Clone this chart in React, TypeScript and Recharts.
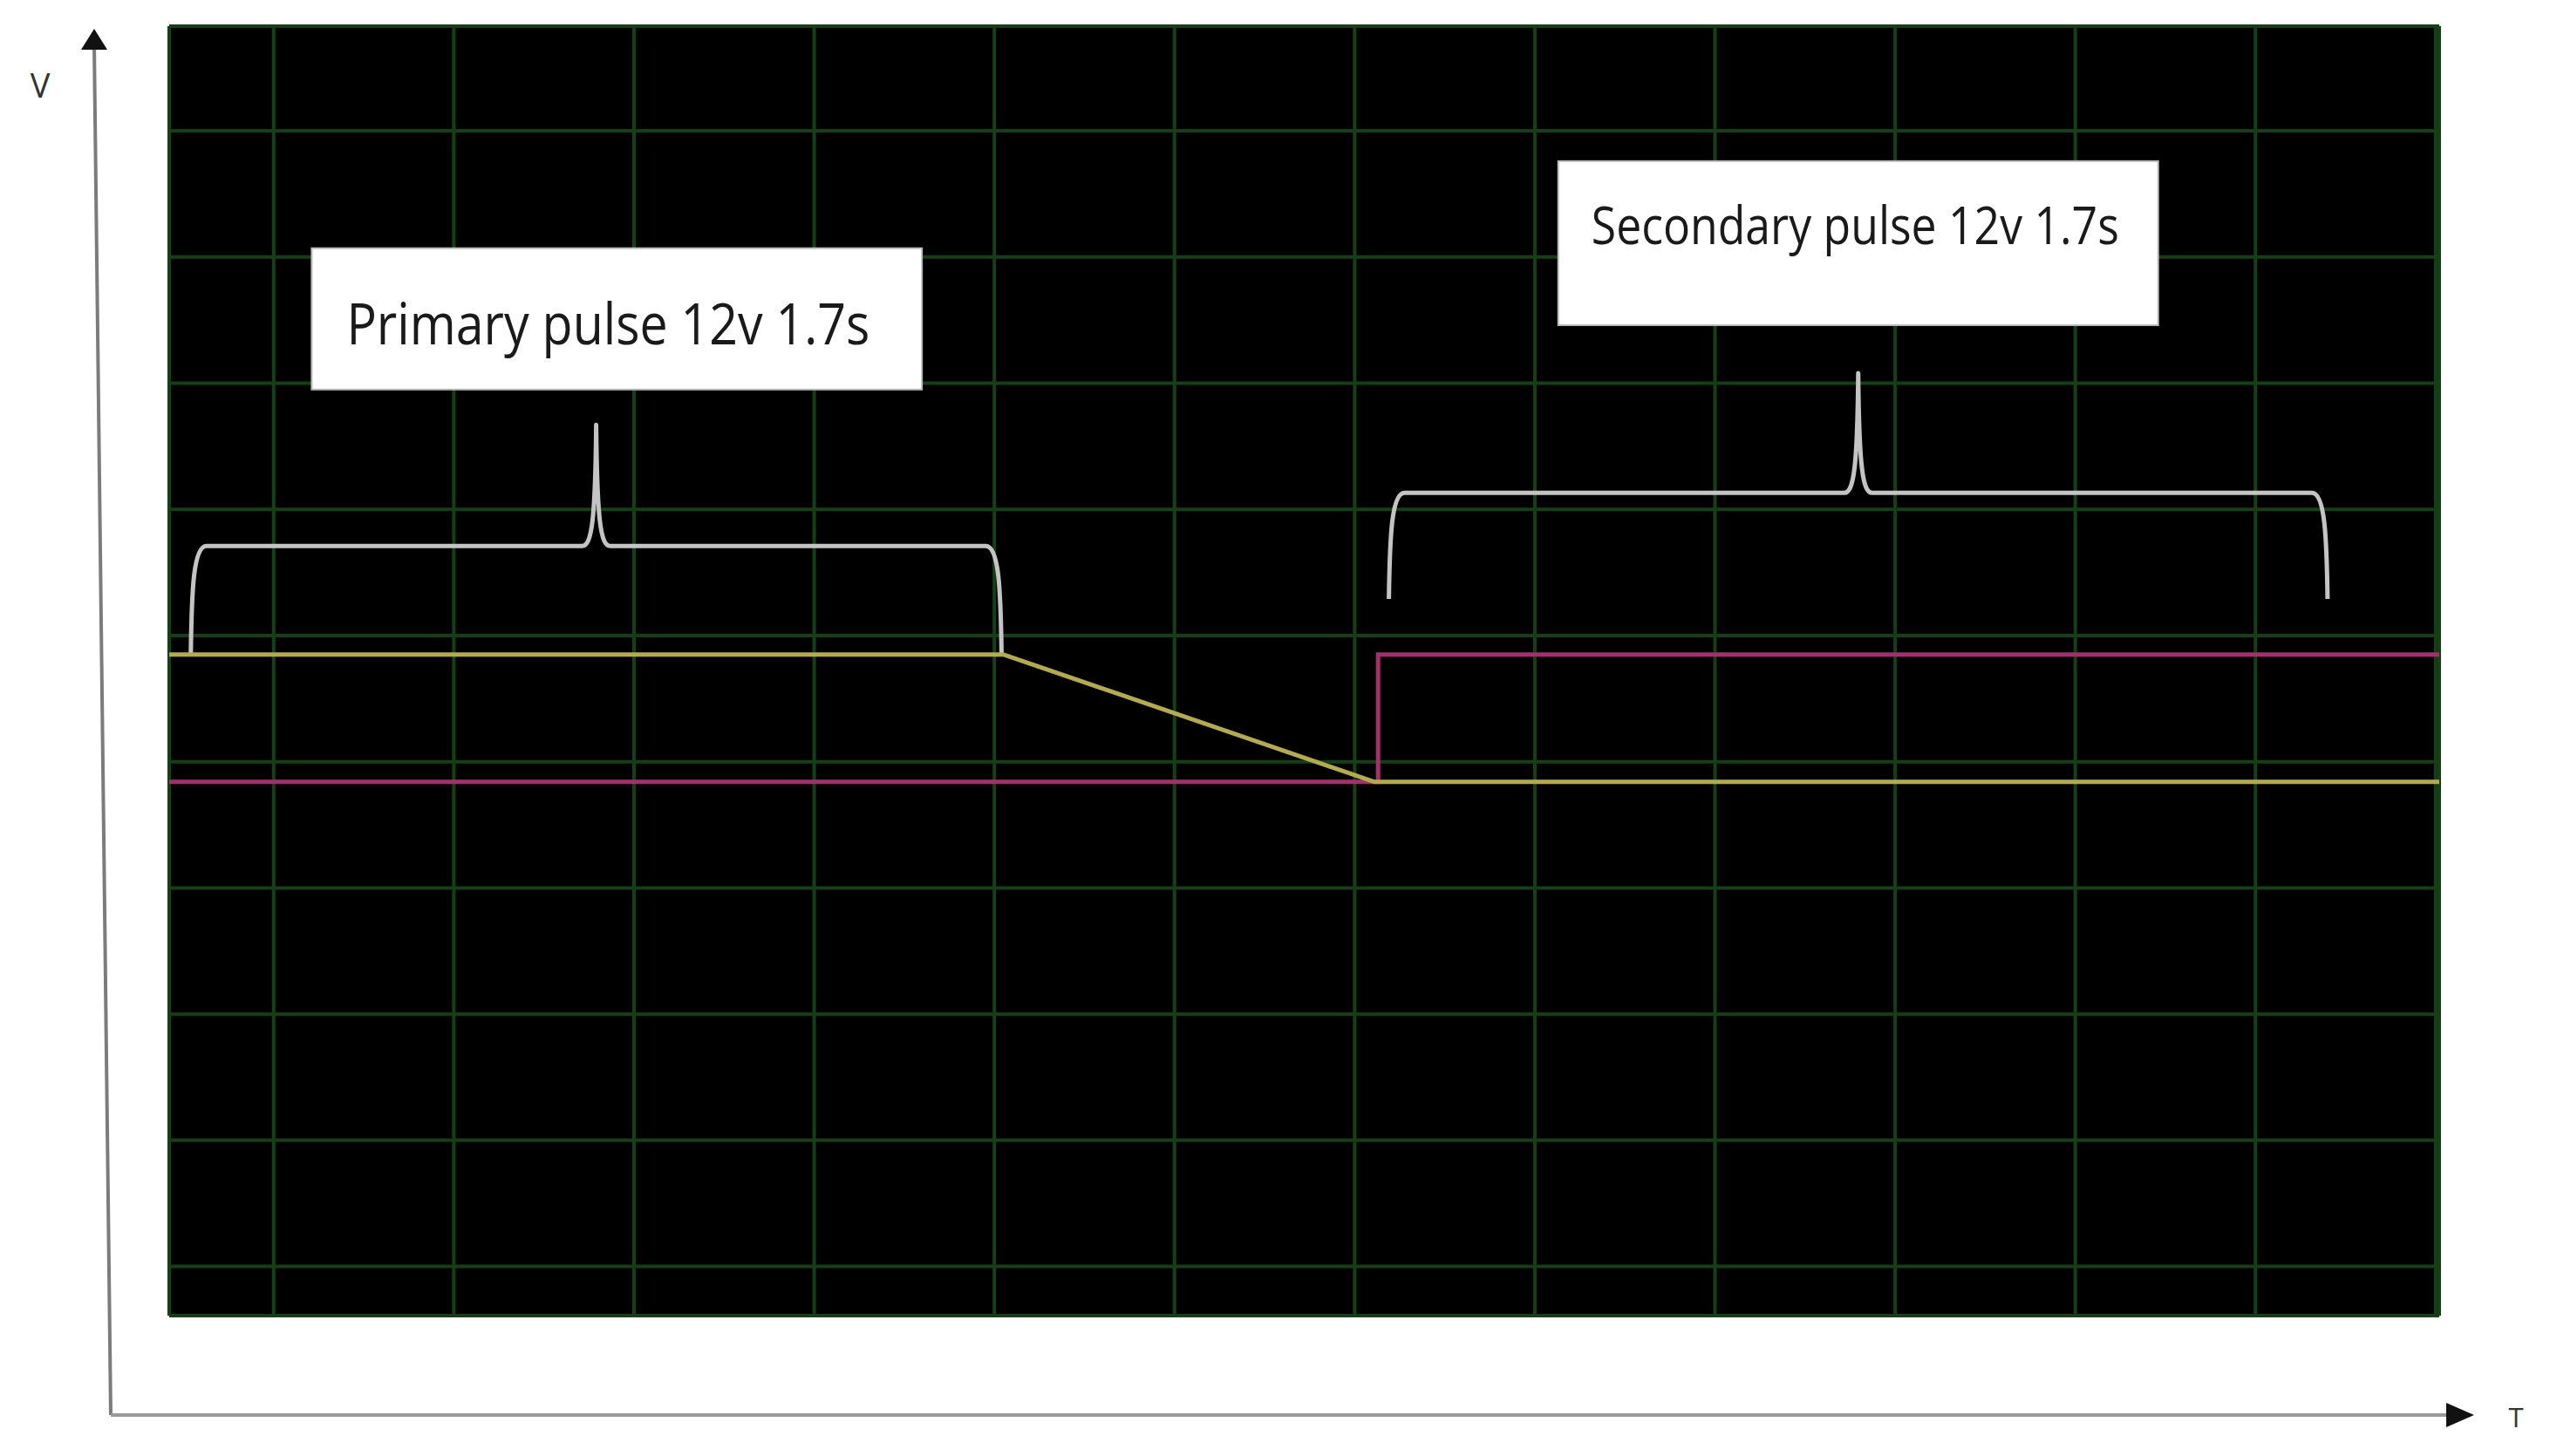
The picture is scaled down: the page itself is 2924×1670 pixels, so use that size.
import React from 'react';
import { LineChart, Line, XAxis, YAxis, CartesianGrid, ReferenceArea } from 'recharts';

// time in grid divisions, voltage in grid divisions
const timeTicks = [1, 2, 3, 4, 5, 6, 7, 8, 9, 10, 11, 12, 13];
const voltTicks = [1, 2, 3, 4, 5, 6, 7, 8, 9, 10];

const primaryTime = [0.42, 5.05, 7.11, 13.02];
const primaryVolts = [5.85, 5.85, 4.84, 4.84];

const secondaryTime = [0.42, 7.13, 7.13, 13.02];
const secondaryVolts = [4.84, 4.84, 5.85, 5.85];

const primaryLabel = 'Primary pulse 12v 1.7s';
const secondaryLabel = 'Secondary pulse 12v 1.7s';

const primaryData = primaryTime.map((t, i) => ({ t, v: primaryVolts[i] }));
const secondaryData = secondaryTime.map((t, i) => ({ t, v: secondaryVolts[i] }));

const W = 2924;
const H = 1670;

const Brace = (props: any) => {
  const { x, y, width, height } = props;
  const x0 = x;
  const x1 = x + width;
  const top = y;
  const bot = y + height;
  const bar = y + height * 0.53;
  const cx = x + width / 2;
  const d =
    `M${x0},${bot} C${x0 + 1},${bar + 50} ${x0 + 3},${bar} ${x0 + 18},${bar} ` +
    `L${cx - 16},${bar} C${cx - 5},${bar} ${cx - 1},${bar - 30} ${cx},${top} ` +
    `C${cx + 1},${bar - 30} ${cx + 5},${bar} ${cx + 16},${bar} ` +
    `L${x1 - 18},${bar} C${x1 - 3},${bar} ${x1 - 1},${bar + 50} ${x1},${bot}`;
  return <path d={d} fill="none" stroke="#c4c4c4" strokeWidth={5} strokeLinejoin="round" />;
};

const labelBox = (text: string, fontSize: number, padX: number, baseFrac: number, textW: number) => (props: any) => {
  const { x, y, width, height } = props;
  return (
    <g>
      <rect x={x} y={y} width={width} height={height} fill="#fff" stroke="#bbb" strokeWidth={2} />
      <text
        x={x + padX}
        y={y + height * baseFrac}
        fontSize={fontSize}
        fill="#1a1a1a"
        fontFamily="'Open Sans', 'Noto Sans', sans-serif"
        textLength={textW}
        lengthAdjust="spacingAndGlyphs"
      >
        {text}
      </text>
    </g>
  );
};

const AxesOverlay = () => (
  <svg width={W} height={H} style={{ position: 'absolute', left: 0, top: 0, pointerEvents: 'none' }}>
    <line x1={108} y1={50} x2={127} y2={1623} stroke="#7c7c7c" strokeWidth={4} />
    <line x1={127} y1={1623} x2={2810} y2={1623} stroke="#9a9a9a" strokeWidth={4} />
    <polygon points="108,33 93,57 123,57" fill="#111" />
    <polygon points="2837,1623 2805,1609 2805,1637" fill="#111" />
    <text x={46} y={112} fontSize={38} textAnchor="middle" fill="#333" fontFamily="'Open Sans', sans-serif">
      V
    </text>
    <text x={2885} y={1637} fontSize={31} textAnchor="middle" fill="#333" fontFamily="'Open Sans', sans-serif">
      T
    </text>
  </svg>
);

// ticks are only used to place the grid lines
const NoTick = () => <g />;

export default function App() {
  return (
    <div style={{ position: 'absolute', left: 0, top: 0, width: W, height: H, background: '#fff' }}>
      <LineChart width={W} height={H} margin={{ top: 30, right: 127, bottom: 160, left: 193 }}>
        <CartesianGrid fill="#000" stroke="#153f15" strokeWidth={4} />
        <XAxis
          type="number"
          dataKey="t"
          domain={[0.42, 13.02]}
          ticks={timeTicks}
          allowDataOverflow
          interval={0}
          tick={NoTick}
          tickLine={false}
          axisLine={false}
          height={1}
        />
        <YAxis
          type="number"
          dataKey="v"
          domain={[0.61, 10.83]}
          ticks={voltTicks}
          allowDataOverflow
          interval={0}
          tick={NoTick}
          tickLine={false}
          axisLine={false}
          width={1}
        />
        <Line
          data={secondaryData}
          dataKey="v"
          type="linear"
          stroke="#a3306d"
          strokeWidth={5}
          dot={false}
          isAnimationActive={false}
        />
        <Line
          data={primaryData}
          dataKey="v"
          type="linear"
          stroke="#b3ab4c"
          strokeWidth={5}
          dot={false}
          isAnimationActive={false}
        />
        <ReferenceArea x1={0.54} x2={5.04} y1={5.86} y2={7.67} shape={Brace} />
        <ReferenceArea x1={7.19} x2={12.4} y1={6.29} y2={8.08} shape={Brace} />
        <ReferenceArea
          x1={1.211}
          x2={4.598}
          y1={7.95}
          y2={9.07}
          shape={labelBox(primaryLabel, 66, 40, 0.68, 600)}
        />
        <ReferenceArea
          x1={8.13}
          x2={11.46}
          y1={8.46}
          y2={9.76}
          shape={labelBox(secondaryLabel, 60, 38, 0.505, 605)}
        />
      </LineChart>
      <AxesOverlay />
    </div>
  );
}
